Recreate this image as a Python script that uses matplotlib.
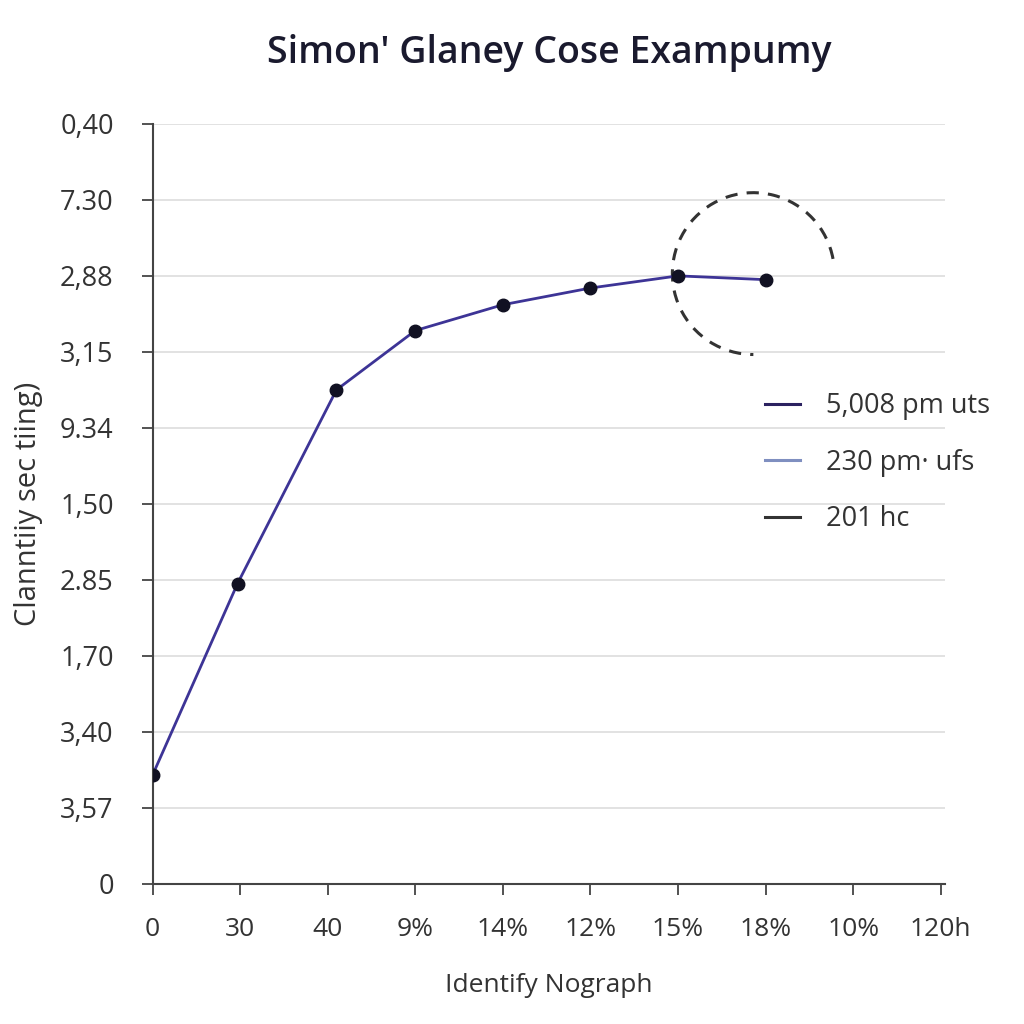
import matplotlib.pyplot as plt
from matplotlib.patches import Arc
from matplotlib.lines import Line2D

plt.rcParams['font.family'] = ['Open Sans', 'DejaVu Sans']

# Дані
x_vals = [0, 0.97, 2.1, 3, 4, 5, 6, 7]
y_vals = [1.43, 3.95, 6.5, 7.28, 7.62, 7.84, 8.0, 7.95]

x_tick_labels = ["0", "30", "40", "9%", "14%", "12%", "15%", "18%", "10%", "120h"]
y_tick_labels = ["0", "3,57", "3,40", "1,70", "2.85", "1,50", "9.34", "3,15", "2,88", "7.30", "0,40"]

legend_labels = ["5,008 pm uts", "230 pm\u00b7 ufs", "201 hc"]
legend_colors = ["#2b2260", "#7f8fc0", "#333333"]

line_color = "#3d3496"

fig = plt.figure(figsize=(10.24, 10.24), dpi=100)
ax = fig.add_axes([0.149, 0.137, 0.774, 0.742])

ax.plot(x_vals, y_vals, color=line_color, linewidth=2, zorder=3)
ax.plot(x_vals, y_vals, 'o', color="#111122", markersize=9, zorder=4)

# пунктирне коло навколо останніх точок
arc = Arc((6.86, 8.03), 1.85, 2.13, theta1=12, theta2=270,
          linestyle=(0, (4, 3)), color="#333333", linewidth=2.2, zorder=2)
ax.add_patch(arc)

ax.set_xlim(0, 9.05)
ax.set_ylim(0, 10)
ax.set_xticks(range(len(x_tick_labels)))
ax.set_xticklabels(x_tick_labels, fontsize=19, color="#333333")
ax.set_yticks(range(len(y_tick_labels)))
ax.set_yticklabels(y_tick_labels, fontsize=19.5, color="#333333")
ax.tick_params(axis='x', length=8, width=1.3, color="#444444", pad=16)
ax.tick_params(axis='y', length=8, width=1.3, color="#444444", pad=20)

ax.grid(axis='y', color="#dddddd", linewidth=1.2)
ax.set_axisbelow(True)
for side in ['top', 'right']:
    ax.spines[side].set_visible(False)
for side in ['left', 'bottom']:
    ax.spines[side].set_color("#444444")
    ax.spines[side].set_linewidth(1.5)

ax.set_title("Simon' Glaney Cose Exampumy", fontsize=27, fontweight='semibold',
             color="#1a1a2e", pad=44)
ax.set_xlabel("Identify Nograph", fontsize=19, color="#333333", labelpad=22)
ax.set_ylabel("Clanntiiy sec tiing)", fontsize=21, color="#333333", labelpad=12)

handles = [Line2D([0], [0], color=c, linewidth=2.2) for c in legend_colors]
ax.legend(handles, legend_labels, loc='upper left', bbox_to_anchor=(0.773, 0.647),
          frameon=False, fontsize=19.5, handlelength=1.3, handletextpad=0.95,
          labelspacing=1.05, borderpad=0, borderaxespad=0, labelcolor="#333333")

plt.savefig('out.png', dpi=100, facecolor='white')
